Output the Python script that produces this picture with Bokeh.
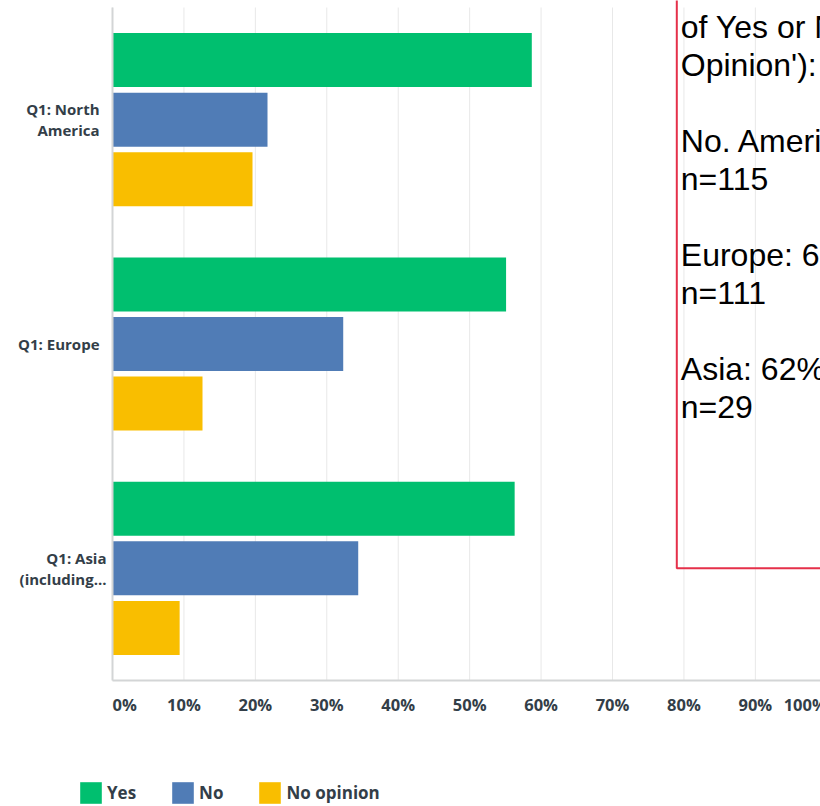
from bokeh.plotting import figure
from bokeh.models import (ColumnDataSource, Range1d, Label, BoxAnnotation, Legend, LegendItem)
from bokeh.core.properties import value, field
from bokeh.transform import dodge
from bokeh.embed import file_html
from bokeh.resources import INLINE

# ---------------- data ----------------
categories = ["Q1: North\nAmerica", "Q1: Europe", "Q1: Asia\n(including..."]
series = ["Yes", "No", "No opinion"]
yes = [58.7, 55.1, 56.3]
no = [21.7, 32.3, 34.4]
no_opinion = [19.6, 12.6, 9.4]
box_regions = ["No. America", "Europe", "Asia"]
n_counts = [115, 111, 29]
x_ticks = [0, 10, 20, 30, 40, 50, 60, 70, 80, 90, 100]
tick_labels = ["0%", "10%", "20%", "30%", "40%", "50%", "60%", "70%", "80%", "90%", "100%"]

# ---------------- layout / styling ----------------
W, H = 820, 806
X0_PX = 112          # pixel position of 0 %
PX_PER_PCT = 7.143   # pixels per percent
TOP_PX = 7           # top of plotting area
AXIS_PX = 680        # x axis line
colors = ["#00bf6f", "#507cb6", "#f9be00"]
label_color = "#333e48"
axis_color = "#d3d5d6"
grid_color = "#e8e8e8"
ui_font = "Open Sans"
cat_label_standoff = [-13, -13, -6]

n_cat = len(categories)
band_px = (AXIS_PX - TOP_PX) / n_cat
y_top, y_bot = -0.5, n_cat - 0.5
x_range = Range1d(-X0_PX / PX_PER_PCT, (W - X0_PX) / PX_PER_PCT)
y_range = Range1d(y_bot + (H - AXIS_PX) / band_px, y_top - TOP_PX / band_px)

idx = list(range(n_cat))
src = ColumnDataSource(dict(idx=idx, yes=yes, no=no, no_opinion=no_opinion))

p = figure(width=W, height=H, output_backend="svg", toolbar_location=None,
           x_range=x_range, y_range=y_range,
           x_axis_location=None, y_axis_location=None,
           min_border=0, min_border_left=0, min_border_right=0,
           min_border_top=0, min_border_bottom=0)
p.outline_line_color = None
p.grid.visible = False
p.background_fill_color = "white"
p.border_fill_color = "white"

# vertical grid lines
p.segment(x0=x_ticks, x1=x_ticks, y0=[y_top] * len(x_ticks), y1=[y_bot] * len(x_ticks),
          line_color=grid_color, line_width=1)

# bars
offsets = [-0.2656, 0.0, 0.2656]
fields = ["yes", "no", "no_opinion"]
renderers = []
for f, off, c in zip(fields, offsets, colors):
    r = p.hbar(y=dodge("idx", off, range=p.y_range), left=0, right=f, height=0.241,
               fill_color=c, line_color=None, source=src)
    renderers.append(r)

# axis lines
p.segment(x0=[x_ticks[0]], x1=[x_ticks[0]], y0=[y_top], y1=[y_bot],
          line_color=axis_color, line_width=2)
p.segment(x0=[x_ticks[0]], x1=[x_ticks[-1]], y0=[y_bot], y1=[y_bot],
          line_color=axis_color, line_width=2)

# category labels
cat_src = ColumnDataSource(dict(x=[x_ticks[0]] * n_cat, y=idx, text=categories,
                                xo=cat_label_standoff))
p.text(x="x", y="y", text="text", x_offset="xo", source=cat_src,
       text_align="right", text_baseline="middle", text_font=value(ui_font),
       text_font_style="bold", text_font_size="15px", text_color=label_color,
       text_line_height=1.05)

# x tick labels
aligns = ["left" if t == x_ticks[0] else ("right" if t == x_ticks[-1] else "center") for t in x_ticks]
tick_src = ColumnDataSource(dict(x=x_ticks, y=[y_bot] * len(x_ticks), text=tick_labels, align=aligns))
p.text(x="x", y="y", text="text", source=tick_src, y_offset=24,
       text_align=field("align"), text_baseline="middle", text_font=value(ui_font),
       text_font_style="bold", text_font_size="16.5px", text_color=label_color)

# red-bordered note box
p.add_layout(BoxAnnotation(left=79.0, right=130, bottom=2.0, top=-2.0,
                           fill_alpha=0, line_color="#e5304a", line_alpha=1, line_width=2))

box_lines = ["of Yes or No or 'No", "Opinion'):", ""]
for name, yv, nv, n in zip(box_regions, yes, no, n_counts):
    box_lines += [f"{name}: {round(100 * yv / (yv + nv))}%", f"n={n}", ""]
box_text = "\n".join(box_lines).rstrip("\n")
p.add_layout(Label(x=79.0, y=y_top, x_offset=4, y_offset=-1, text=box_text,
                   text_baseline="top", text_align="left",
                   text_font="Liberation Sans", text_font_size="32px",
                   text_line_height=1.056, text_color="black"))

legend = Legend(items=[LegendItem(label=s, renderers=[r]) for s, r in zip(series, renderers)],
                orientation="horizontal", location=(77, 0),
                glyph_width=27, glyph_height=27, label_standoff=3, spacing=33,
                padding=0, margin=0, border_line_color=None, background_fill_alpha=0,
                label_text_font=ui_font, label_text_font_style="bold",
                label_text_font_size="17px", label_text_color=label_color)
p.add_layout(legend)

open("out.html", "w").write(file_html(p, INLINE))
